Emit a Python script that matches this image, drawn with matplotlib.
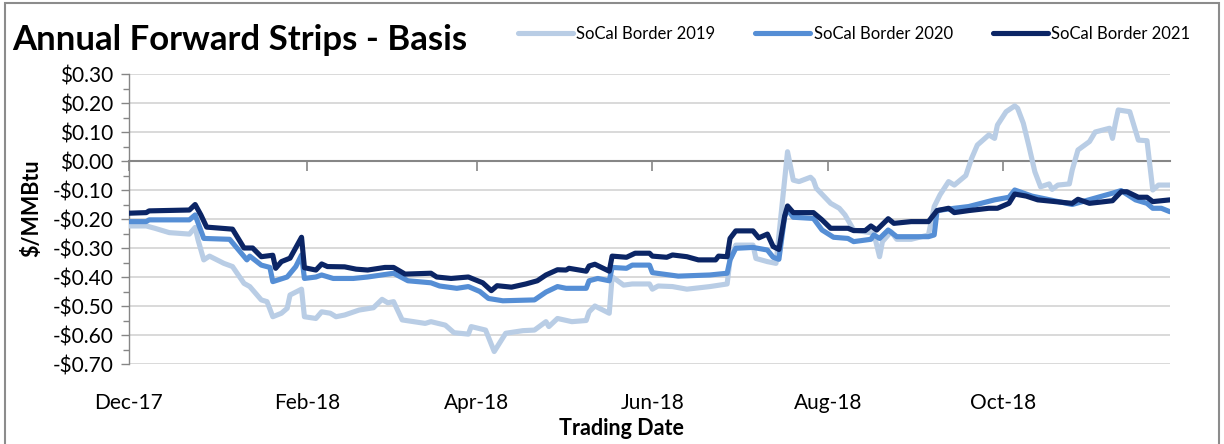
import pandas as pd
import matplotlib
matplotlib.use('Agg')
import matplotlib.pyplot as plt
from matplotlib.ticker import FuncFormatter, MultipleLocator
from matplotlib.patches import Rectangle

plt.rcParams['font.family'] = ['Lato', 'DejaVu Sans']

# SoCal Border 2019 annual strip ($/MMBtu)
dates_2019 = ["2017-12-01", "2017-12-07", "2017-12-10", "2017-12-15", "2017-12-22", "2017-12-24",
              "2017-12-25", "2017-12-27", "2017-12-29", "2018-01-03", "2018-01-06", "2018-01-10",
              "2018-01-12", "2018-01-16", "2018-01-18", "2018-01-20", "2018-01-23", "2018-01-25",
              "2018-01-26", "2018-01-30", "2018-01-31", "2018-02-04", "2018-02-06", "2018-02-09",
              "2018-02-11", "2018-02-14", "2018-02-19", "2018-02-24", "2018-02-27", "2018-03-01",
              "2018-03-03", "2018-03-06", "2018-03-14", "2018-03-16", "2018-03-21", "2018-03-24",
              "2018-03-29", "2018-03-30", "2018-04-04", "2018-04-07", "2018-04-11", "2018-04-17",
              "2018-04-21", "2018-04-25", "2018-04-26", "2018-04-29", "2018-05-04", "2018-05-09",
              "2018-05-10", "2018-05-12", "2018-05-17", "2018-05-18", "2018-05-22", "2018-05-25",
              "2018-05-31", "2018-06-01", "2018-06-03", "2018-06-08", "2018-06-13", "2018-06-21",
              "2018-06-27", "2018-06-28", "2018-06-30", "2018-07-06", "2018-07-07", "2018-07-11",
              "2018-07-14", "2018-07-18", "2018-07-20", "2018-07-22", "2018-07-26", "2018-07-27",
              "2018-07-28", "2018-08-02", "2018-08-05", "2018-08-07", "2018-08-10", "2018-08-17",
              "2018-08-19", "2018-08-20", "2018-08-23", "2018-08-25", "2018-08-30", "2018-09-05",
              "2018-09-07", "2018-09-09", "2018-09-12", "2018-09-14", "2018-09-18", "2018-09-20",
              "2018-09-22", "2018-09-26", "2018-09-28", "2018-09-29", "2018-10-02", "2018-10-05",
              "2018-10-06", "2018-10-08", "2018-10-10", "2018-10-12", "2018-10-14", "2018-10-17",
              "2018-10-18", "2018-10-20", "2018-10-24", "2018-10-25", "2018-10-27", "2018-10-31",
              "2018-11-02", "2018-11-07", "2018-11-08", "2018-11-09", "2018-11-10", "2018-11-14",
              "2018-11-17", "2018-11-20", "2018-11-22", "2018-11-24", "2018-11-28"]
vals_2019 = [-0.224, -0.224, -0.232, -0.247, -0.252, -0.229,
             -0.272, -0.341, -0.328, -0.353, -0.364, -0.422,
             -0.433, -0.479, -0.485, -0.537, -0.525, -0.508,
             -0.462, -0.442, -0.537, -0.543, -0.520, -0.525,
             -0.537, -0.531, -0.514, -0.506, -0.477, -0.489,
             -0.485, -0.548, -0.560, -0.554, -0.566, -0.592,
             -0.597, -0.571, -0.583, -0.657, -0.594, -0.585,
             -0.583, -0.554, -0.571, -0.543, -0.554, -0.550,
             -0.520, -0.500, -0.525, -0.399, -0.428, -0.424,
             -0.424, -0.442, -0.431, -0.433, -0.442, -0.433,
             -0.424, -0.341, -0.290, -0.290, -0.336, -0.347,
             -0.353, 0.032, -0.066, -0.071, -0.056, -0.066,
             -0.094, -0.146, -0.163, -0.186, -0.238, -0.249,
             -0.330, -0.278, -0.244, -0.270, -0.270, -0.255,
             -0.157, -0.117, -0.071, -0.083, -0.050, 0.009,
             0.055, 0.090, 0.078, 0.124, 0.170, 0.190,
             0.182, 0.130, 0.049, -0.037, -0.089, -0.079,
             -0.098, -0.083, -0.079, -0.031, 0.038, 0.067,
             0.100, 0.113, 0.078, 0.130, 0.176, 0.170,
             0.072, 0.070, -0.100, -0.083, -0.083]

# SoCal Border 2020 annual strip
dates_2020 = ["2017-12-01", "2017-12-07", "2017-12-08", "2017-12-22", "2017-12-24", "2017-12-27",
              "2018-01-05", "2018-01-11", "2018-01-12", "2018-01-16", "2018-01-19", "2018-01-20",
              "2018-01-25", "2018-01-28", "2018-01-30", "2018-01-31", "2018-02-04", "2018-02-06",
              "2018-02-10", "2018-02-17", "2018-02-22", "2018-03-03", "2018-03-08", "2018-03-16",
              "2018-03-19", "2018-03-25", "2018-03-29", "2018-04-02", "2018-04-05", "2018-04-10",
              "2018-04-21", "2018-04-25", "2018-04-29", "2018-05-02", "2018-05-09", "2018-05-10",
              "2018-05-13", "2018-05-17", "2018-05-18", "2018-05-23", "2018-05-25", "2018-05-31",
              "2018-06-01", "2018-06-10", "2018-06-21", "2018-06-27", "2018-06-28", "2018-06-30",
              "2018-07-06", "2018-07-11", "2018-07-13", "2018-07-15", "2018-07-17", "2018-07-18",
              "2018-07-20", "2018-07-27", "2018-07-30", "2018-08-03", "2018-08-08", "2018-08-10",
              "2018-08-16", "2018-08-17", "2018-08-19", "2018-08-22", "2018-08-25", "2018-09-05",
              "2018-09-07", "2018-09-08", "2018-09-14", "2018-09-19", "2018-09-28", "2018-10-03",
              "2018-10-05", "2018-10-11", "2018-10-25", "2018-11-08", "2018-11-11", "2018-11-16",
              "2018-11-20", "2018-11-22", "2018-11-25", "2018-11-28"]
vals_2020 = [-0.209, -0.209, -0.203, -0.203, -0.186, -0.267,
             -0.270, -0.341, -0.328, -0.359, -0.367, -0.416,
             -0.400, -0.364, -0.324, -0.405, -0.400, -0.393,
             -0.405, -0.405, -0.400, -0.387, -0.413, -0.420,
             -0.431, -0.439, -0.433, -0.450, -0.474, -0.482,
             -0.479, -0.452, -0.433, -0.439, -0.439, -0.413,
             -0.405, -0.413, -0.367, -0.370, -0.359, -0.359,
             -0.385, -0.397, -0.393, -0.387, -0.341, -0.301,
             -0.298, -0.307, -0.332, -0.339, -0.192, -0.167,
             -0.194, -0.198, -0.238, -0.263, -0.267, -0.278,
             -0.270, -0.255, -0.267, -0.238, -0.261, -0.261,
             -0.255, -0.171, -0.163, -0.157, -0.134, -0.125,
             -0.100, -0.121, -0.150, -0.111, -0.102, -0.134,
             -0.146, -0.163, -0.163, -0.175]

# SoCal Border 2021 annual strip
dates_2021 = ["2017-12-01", "2017-12-07", "2017-12-08", "2017-12-22", "2017-12-24", "2017-12-26",
              "2017-12-28", "2018-01-06", "2018-01-10", "2018-01-13", "2018-01-16", "2018-01-20",
              "2018-01-21", "2018-01-23", "2018-01-26", "2018-01-30", "2018-01-31", "2018-02-04",
              "2018-02-06", "2018-02-08", "2018-02-14", "2018-02-18", "2018-02-22", "2018-02-28",
              "2018-03-03", "2018-03-07", "2018-03-16", "2018-03-18", "2018-03-23", "2018-03-29",
              "2018-04-03", "2018-04-06", "2018-04-08", "2018-04-13", "2018-04-18", "2018-04-22",
              "2018-04-25", "2018-04-29", "2018-05-02", "2018-05-03", "2018-05-09", "2018-05-10",
              "2018-05-12", "2018-05-17", "2018-05-18", "2018-05-23", "2018-05-26", "2018-05-31",
              "2018-06-01", "2018-06-06", "2018-06-08", "2018-06-13", "2018-06-17", "2018-06-23",
              "2018-06-24", "2018-06-27", "2018-06-28", "2018-06-30", "2018-07-06", "2018-07-08",
              "2018-07-11", "2018-07-13", "2018-07-15", "2018-07-17", "2018-07-18", "2018-07-20",
              "2018-07-27", "2018-07-30", "2018-08-02", "2018-08-08", "2018-08-10", "2018-08-14",
              "2018-08-16", "2018-08-18", "2018-08-22", "2018-08-24", "2018-08-30", "2018-09-05",
              "2018-09-08", "2018-09-12", "2018-09-14", "2018-09-19", "2018-09-26", "2018-09-29",
              "2018-10-03", "2018-10-05", "2018-10-09", "2018-10-13", "2018-10-19", "2018-10-25",
              "2018-10-27", "2018-10-31", "2018-11-08", "2018-11-11", "2018-11-13", "2018-11-17",
              "2018-11-20", "2018-11-22", "2018-11-28"]
vals_2021 = [-0.180, -0.178, -0.172, -0.169, -0.150, -0.186,
             -0.228, -0.235, -0.300, -0.300, -0.330, -0.325,
             -0.370, -0.347, -0.335, -0.263, -0.368, -0.376,
             -0.355, -0.364, -0.365, -0.373, -0.376, -0.367,
             -0.367, -0.390, -0.387, -0.400, -0.405, -0.400,
             -0.420, -0.447, -0.430, -0.435, -0.424, -0.413,
             -0.393, -0.375, -0.376, -0.370, -0.380, -0.362,
             -0.356, -0.380, -0.328, -0.332, -0.318, -0.318,
             -0.328, -0.332, -0.324, -0.330, -0.341, -0.341,
             -0.328, -0.330, -0.267, -0.241, -0.241, -0.265,
             -0.252, -0.295, -0.305, -0.190, -0.155, -0.178,
             -0.178, -0.203, -0.232, -0.232, -0.240, -0.240,
             -0.224, -0.238, -0.199, -0.215, -0.209, -0.209,
             -0.171, -0.163, -0.178, -0.171, -0.163, -0.163,
             -0.146, -0.114, -0.121, -0.134, -0.140, -0.146,
             -0.132, -0.146, -0.137, -0.106, -0.106, -0.125,
             -0.125, -0.140, -0.134]

series_names = ["SoCal Border 2019", "SoCal Border 2020", "SoCal Border 2021"]
series_colors = ["#B9CDE5", "#558ED5", "#0B2565"]

tick_dates = ["2017-12-01", "2018-02-01", "2018-04-01", "2018-06-01", "2018-08-01", "2018-10-01"]
tick_labels = ["Dec-17", "Feb-18", "Apr-18", "Jun-18", "Aug-18", "Oct-18"]

W, H = 1224, 444
fig = plt.figure(figsize=(W / 100, H / 100), dpi=100)
ax = fig.add_axes([129 / W, 1 - 364 / H, (1170 - 129) / W, (364 - 74) / H])

all_dates = [dates_2019, dates_2020, dates_2021]
all_vals = [vals_2019, vals_2020, vals_2021]
for d, v, name, col in zip(all_dates, all_vals, series_names, series_colors):
    ax.plot(pd.to_datetime(d), v, color=col, lw=3.7, label=name,
            solid_joinstyle='round', solid_capstyle='round', zorder=3)

ax.set_ylim(-0.70, 0.30)
ax.set_xlim(pd.Timestamp("2017-12-01"), pd.Timestamp("2018-11-28"))

# y axis
ax.yaxis.set_major_locator(MultipleLocator(0.1))
ax.yaxis.set_minor_locator(MultipleLocator(0.05))
ax.yaxis.set_major_formatter(FuncFormatter(
    lambda v, p: f"-${abs(v):.2f}" if v < -1e-9 else f"${abs(v):.2f}"))
ax.tick_params(axis='y', which='major', direction='out', length=6, width=1,
               color='#868686', labelsize=15, pad=5, labelcolor='black')
ax.tick_params(axis='y', which='minor', direction='out', length=4, width=1, color='#868686')
ax.grid(axis='y', which='major', color='#D9D9D9', lw=1.4, zorder=0)
ax.set_axisbelow(True)

for s in ['top', 'right']:
    ax.spines[s].set_visible(False)
ax.spines['left'].set_color('#868686')
ax.spines['left'].set_linewidth(1)

# horizontal axis crosses at zero; tick marks hang below it, labels sit low (Excel "low" labels)
ax.spines['bottom'].set_position(('data', 0))
ax.spines['bottom'].set_color('#868686')
ax.spines['bottom'].set_linewidth(1.5)
ax.spines['bottom'].set_zorder(1)
tds = pd.to_datetime(tick_dates)
ax.set_xticks(tds)
ax.set_xticklabels(tick_labels)
ax.tick_params(axis='x', direction='out', length=7, width=1.2, color='#868686',
               labelsize=15, pad=160)

fig.text(12 / W, 1 - 40 / H, "Annual Forward Strips - Basis", fontsize=25, fontweight='bold',
         va='center', ha='left')
fig.text(32 / W, 1 - 208 / H, "$/MMBtu", rotation=90, fontsize=15.5, fontweight='bold',
         va='center', ha='center')
fig.text(621 / W, 1 - 428 / H, "Trading Date", fontsize=15.5, fontweight='bold',
         va='center', ha='center')

fig.legend(loc='center left', bbox_to_anchor=(518 / W, 1 - 34 / H), ncol=3, frameon=False,
           fontsize=12, handlelength=3.3, handletextpad=0.2, columnspacing=2.4,
           borderpad=0, borderaxespad=0)

fig.add_artist(Rectangle((5 / W, -0.02), (1219 - 5) / W, 1.02 - 3 / H, transform=fig.transFigure,
                         fill=False, edgecolor='#8C8C8C', lw=1.5))

fig.savefig("out.png", dpi=100)
